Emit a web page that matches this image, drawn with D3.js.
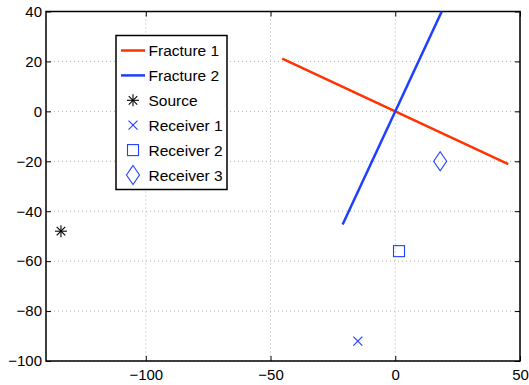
<!DOCTYPE html>
<html>
<head>
<meta charset="utf-8">
<script src="https://cdn.jsdelivr.net/npm/d3@7"></script>
<style>
  body { margin: 0; background: #fff; }
  svg { font-family: "Liberation Sans", Arial, sans-serif; }
</style>
</head>
<body>
<svg id="chart" width="529" height="385"></svg>
<script>
// data
var xTicks = [-100, -50, 0, 50];
var yTicks = [-100, -80, -60, -40, -20, 0, 20, 40];
var fracture1 = [[-45.3, 21.1], [45.3, -21.1]];
var fracture2 = [[-21.1, -45.3], [21.1, 45.3]];
var source = [[-134, -48]];
var receiver1 = [[-15, -92]];
var receiver2 = [[1.5, -56]];
var receiver3 = [[18, -20]];
var legendLabels = ["Fracture 1", "Fracture 2", "Source", "Receiver 1", "Receiver 2", "Receiver 3"];

var red = "#ff3300", blue = "#1f3fff";

var svg = d3.select("#chart");
var pLeft = 46, pRight = 520, pTop = 11.5, pBottom = 361;

var x = d3.scaleLinear().domain([-140, 50]).range([pLeft, pRight]);
var y = d3.scaleLinear().domain([-100, 40]).range([pBottom, pTop]);

svg.append("defs").append("clipPath").attr("id", "clip")
  .append("rect").attr("x", pLeft).attr("y", pTop)
  .attr("width", pRight - pLeft).attr("height", pBottom - pTop);

// grid
var grid = svg.append("g").attr("stroke", "#b0b0b0").attr("stroke-width", 1)
  .attr("stroke-dasharray", "1,3");
xTicks.forEach(function(t){
  grid.append("line").attr("x1", x(t)).attr("x2", x(t)).attr("y1", pTop).attr("y2", pBottom);
});
yTicks.forEach(function(t){
  grid.append("line").attr("x1", pLeft).attr("x2", pRight).attr("y1", y(t)).attr("y2", y(t));
});

function minus(d){ return d < 0 ? "\u2212" + Math.abs(d) : d; }
var xAxis = d3.axisBottom(x).tickValues(xTicks).tickSize(-5).tickPadding(8).tickFormat(minus);
var yAxis = d3.axisLeft(y).tickValues(yTicks).tickSize(-5).tickPadding(4).tickFormat(minus);

function styleAxis(g){
  g.select(".domain").remove();
  g.selectAll("line").attr("stroke", "#000").attr("stroke-width", 1);
  g.selectAll("text").attr("font-size", 15).attr("fill", "#000")
    .attr("font-family", "Liberation Sans, Arial, sans-serif");
}
svg.append("g").attr("transform", "translate(0," + pBottom + ")").call(xAxis).call(styleAxis);
svg.append("g").attr("transform", "translate(" + pLeft + ",0)").call(yAxis).call(styleAxis);
svg.append("g").attr("transform", "translate(0," + pTop + ")")
  .call(d3.axisTop(x).tickValues(xTicks).tickSize(-5).tickFormat(""))
  .call(styleAxis);
svg.append("g").attr("transform", "translate(" + pRight + ",0)")
  .call(d3.axisRight(y).tickValues(yTicks).tickSize(-5).tickFormat(""))
  .call(styleAxis);

// box
svg.append("rect").attr("x", pLeft).attr("y", pTop)
  .attr("width", pRight - pLeft).attr("height", pBottom - pTop)
  .attr("fill", "none").attr("stroke", "#000").attr("stroke-width", 1.5);

var line = d3.line().x(function(d){ return x(d[0]); }).y(function(d){ return y(d[1]); });
var plot = svg.append("g").attr("clip-path", "url(#clip)");

plot.append("path").datum(fracture1).attr("d", line)
  .attr("fill", "none").attr("stroke", red).attr("stroke-width", 2.5);
plot.append("path").datum(fracture2).attr("d", line)
  .attr("fill", "none").attr("stroke", blue).attr("stroke-width", 2.5);

function asterisk(g){
  var r = 6;
  [0, 45, 90, 135].forEach(function(a){
    var rad = a * Math.PI / 180;
    g.append("line").attr("x1", -r * Math.cos(rad)).attr("y1", -r * Math.sin(rad))
      .attr("x2", r * Math.cos(rad)).attr("y2", r * Math.sin(rad));
  });
}
function cross(g){
  var r = 4.5;
  g.append("line").attr("x1", -r).attr("y1", -r).attr("x2", r).attr("y2", r);
  g.append("line").attr("x1", -r).attr("y1", r).attr("x2", r).attr("y2", -r);
}
function square(g){
  g.append("rect").attr("x", -5.5).attr("y", -5.5).attr("width", 11).attr("height", 11).attr("fill", "none");
}
function diamond(g){
  g.append("path").attr("d", "M0,-9.5L6.5,0L0,9.5L-6.5,0Z").attr("fill", "none");
}

function drawMarkers(data, shape, color){
  data.forEach(function(d){
    var g = svg.append("g").attr("transform", "translate(" + x(d[0]) + "," + y(d[1]) + ")")
      .attr("stroke", color).attr("stroke-width", 1.1);
    shape(g);
  });
}
drawMarkers(source, asterisk, "#000");
drawMarkers(receiver1, cross, blue);
drawMarkers(receiver2, square, blue);
drawMarkers(receiver3, diamond, blue);

// legend
var lg = svg.append("g");
lg.append("rect").attr("x", 116).attr("y", 35.5).attr("width", 111).attr("height", 154)
  .attr("fill", "#fff").attr("stroke", "#000").attr("stroke-width", 1.5);
var rowY = function(i){ return 50.5 + i * 24.9; };
var shapes = [null, null, asterisk, cross, square, diamond];
var colors = [red, blue, "#000", blue, blue, blue];
legendLabels.forEach(function(label, i){
  var cy = rowY(i);
  if (i < 2) {
    lg.append("line").attr("x1", 121).attr("x2", 145).attr("y1", cy).attr("y2", cy)
      .attr("stroke", colors[i]).attr("stroke-width", 2.5);
  } else {
    var g = lg.append("g").attr("transform", "translate(133," + cy + ")")
      .attr("stroke", colors[i]).attr("stroke-width", 1.1);
    shapes[i](g);
  }
  lg.append("text").attr("x", 148.5).attr("y", cy).attr("dy", "0.36em")
    .attr("font-size", 15.5).attr("fill", "#000").text(label);
});
</script>
</body>
</html>
